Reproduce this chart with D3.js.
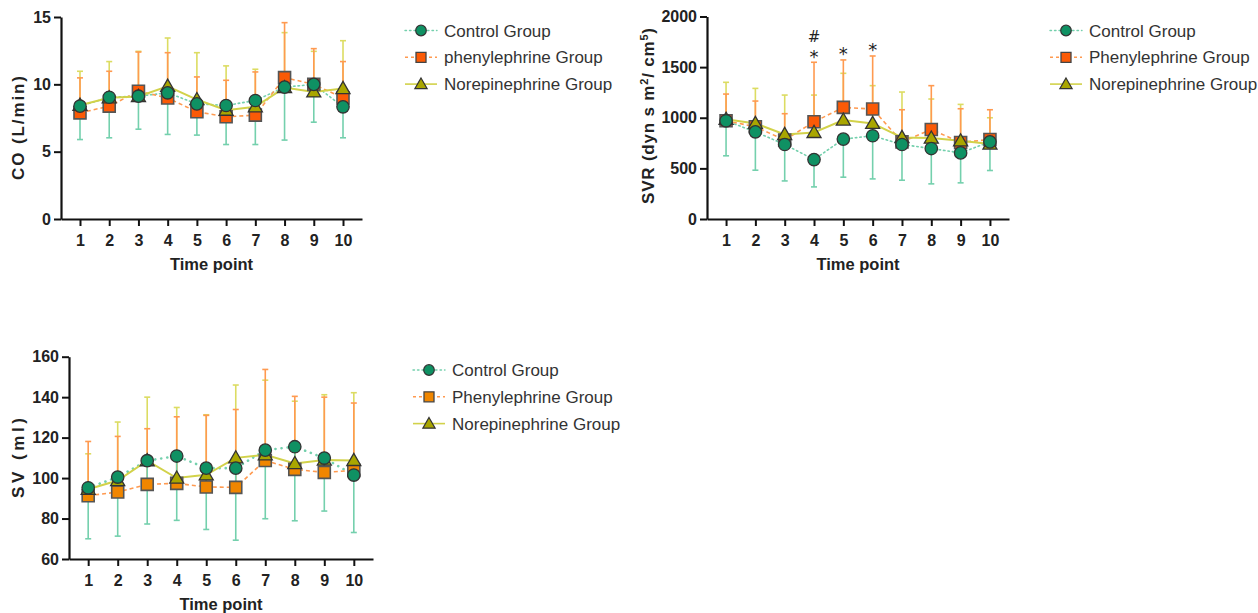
<!DOCTYPE html>
<html><head><meta charset="utf-8">
<script src="https://cdn.jsdelivr.net/npm/d3@7"></script>
<style>
html,body{margin:0;padding:0;background:#fff;}
svg{display:block;font-family:"Liberation Sans",Arial,sans-serif;}
</style></head>
<body><svg id="c" width="1258" height="613"></svg>
<script>
const timePoints = [1,2,3,4,5,6,7,8,9,10];

const coControl   = [8.38,9.04,9.12,9.37,8.55,8.43,8.8,9.79,10.0,8.33];
const coControlLo = [5.9,6.03,6.67,6.28,6.23,5.53,5.53,5.86,7.19,6.03];
const coPhenyl    = [7.88,8.38,9.49,8.99,7.96,7.59,7.71,10.5,10.0,8.99];
const coPhenylHi  = [10.48,10.97,12.4,12.35,10.55,10.3,10.92,14.58,12.65,11.69];
const coNorepi    = [8.45,9.0,9.1,9.86,8.87,8.08,8.33,9.76,9.44,9.69];
const coNorepiHi  = [10.97,11.69,12.45,13.44,12.35,11.37,11.12,13.84,12.45,13.24];
const coTicks = [0,5,10,15];

const svrControl   = [970,861,736,587,789,822,736,696,653,762];
const svrControlLo = [624,482,376,317,413,396,383,347,357,479];
const svrPhenyl    = [970,911,780,960,1102,1086,762,884,756,785];
const svrPhenylHi  = [1234,1165,1040,1548,1571,1610,1079,1317,1089,1079];
const svrNorepi    = [985,944,835,855,977,944,805,799,772,740];
const svrNorepiHi  = [1350,1290,1224,1224,1439,1317,1254,1185,1132,1000];
const svrTicks = [0,500,1000,1500,2000];
const svrSignif = [{t:4, marks:["#","*"]},{t:5, marks:["*"]},{t:6, marks:["*"]}];

const svControl   = [95.2,100.5,108.6,110.9,104.9,104.9,113.8,115.5,109.9,101.5];
const svControlLo = [70,71.3,77.3,79.1,74.6,69.3,79.9,78.9,83.7,73.1];
const svPhenyl    = [91.3,93.1,96.9,97.4,95.6,95.4,108.7,104.3,102.8,103.8];
const svPhenylHi  = [118.1,120.6,124.4,130.3,131,133.9,153.7,140.4,140,137.1];
const svNorepi    = [94.5,98.8,108.6,100,101.6,110,111.5,107.2,108.9,108.7];
const svNorepiHi  = [112,127.7,140,134.9,131.3,146,148.4,138,141.2,142.2];
const svTicks = [60,80,100,120,140,160];

const groupNames = {
  co:  ["Control Group","phenylephrine Group","Norepinephrine Group"],
  std: ["Control Group","Phenylephrine Group","Norepinephrine Group"]
};

const svg = d3.select("#c");
const C = {
  ctrlFill:"#0f9163", ctrlLine:"#74d0ad",
  phFill:"#fb5a06", phLine:"#ff9a50",
  neFill:"#a9a600", neLine:"#d2d24a", neErr:"#dcdc62"
};

function panel(o){
  const g = svg.append("g");
  const x = d3.scaleLinear().domain([0.35,10.65]).range([o.x0,o.x1]);
  const y = d3.scaleLinear().domain(o.yDomain).range([o.y0,o.y1]);
  const phFill = o.phFill || C.phFill;

  const ax = g.append("g").attr("transform",`translate(0,${o.y0})`)
    .call(d3.axisBottom(x).tickValues(timePoints).tickFormat(d3.format("d")).tickSize(7).tickPadding(5).tickSizeOuter(0));
  const ay = g.append("g").attr("transform",`translate(${o.x0},0)`)
    .call(d3.axisLeft(y).tickValues(o.ticks).tickFormat(d3.format("d")).tickSize(7).tickPadding(3).tickSizeOuter(0));
  [ax,ay].forEach(a=>{
    a.attr("font-size",16).attr("font-family","'Liberation Sans',Arial,sans-serif");
    a.select(".domain").attr("stroke","#111").attr("stroke-width",2.2);
    a.selectAll(".tick line").attr("stroke","#111").attr("stroke-width",2);
    a.selectAll(".tick text").attr("fill","#222").attr("font-weight","bold");
  });
  ax.selectAll(".tick text").attr("dy","0.95em");

  g.append("text").attr("x",(o.x0+o.x1)/2).attr("y",o.y0+51).attr("text-anchor","middle")
    .attr("font-size",16.5).attr("font-weight","bold").attr("fill","#222").text("Time point");
  const yt = g.append("text").attr("transform",`translate(${o.yTitleX},${o.yTitleY}) rotate(-90)`)
    .attr("text-anchor","middle").attr("font-size",17).attr("font-weight","bold").attr("fill","#222");
  o.yTitle(yt);

  const data = timePoints.map((t,i)=>({t,i}));
  function errBars(vals, ends, color){
    const eg = g.append("g").attr("stroke",color).attr("stroke-width",1.6);
    eg.selectAll("line.v").data(data).join("line")
      .attr("x1",d=>x(d.t)).attr("x2",d=>x(d.t))
      .attr("y1",d=>y(vals[d.i])).attr("y2",d=>y(ends[d.i]));
    eg.selectAll("line.c").data(data).join("line")
      .attr("x1",d=>x(d.t)-3).attr("x2",d=>x(d.t)+3)
      .attr("y1",d=>y(ends[d.i])).attr("y2",d=>y(ends[d.i]));
  }
  errBars(o.ne, o.neHi, C.neErr);
  errBars(o.ph, o.phHi, C.phLine);
  errBars(o.ctrl, o.ctrlLo, C.ctrlLine);

  const line = v => d3.line().x(d=>x(d.t)).y(d=>y(v[d.i]))(data);
  g.append("path").attr("d",line(o.ctrl)).attr("fill","none").attr("stroke",C.ctrlLine)
    .attr("stroke-width",o.dotW||1.6).attr("stroke-dasharray",o.dotDash||"1.5,3").attr("stroke-linecap","round");
  g.append("path").attr("d",line(o.ph)).attr("fill","none").attr("stroke",C.phLine)
    .attr("stroke-width",1.6).attr("stroke-dasharray","4,3");
  g.append("path").attr("d",line(o.ne)).attr("fill","none").attr("stroke",C.neLine)
    .attr("stroke-width",2);

  const sq = d3.symbol().type(d3.symbolSquare).size(144);
  const tri = d3.symbol().type(d3.symbolTriangle).size(85);
  g.selectAll("path.sq").data(data).join("path")
    .attr("transform",d=>`translate(${x(d.t)},${y(o.ph[d.i])})`).attr("d",sq)
    .attr("fill",phFill).attr("stroke","#555").attr("stroke-width",1.6);
  g.selectAll("path.tr").data(data).join("path")
    .attr("transform",d=>`translate(${x(d.t)},${y(o.ne[d.i])+1})`).attr("d",tri)
    .attr("fill",C.neFill).attr("stroke","#333").attr("stroke-width",1.3);
  g.selectAll("circle.ct").data(data).join("circle")
    .attr("cx",d=>x(d.t)).attr("cy",d=>y(o.ctrl[d.i])).attr("r",6.2)
    .attr("fill",C.ctrlFill).attr("stroke","#333").attr("stroke-width",1.3);

  const lg = g.append("g");
  o.names.forEach((nm,k)=>{
    const ly = o.legY + k*26.8;
    const lx = o.legX;
    const colors = [C.ctrlLine,C.phLine,C.neLine];
    const dashes = ["1.5,3","3,3",null];
    const ln = lg.append("line").attr("x1",lx-16).attr("x2",lx+16).attr("y1",ly).attr("y2",ly)
      .attr("stroke",colors[k]).attr("stroke-width",k===2?1.6:1.4);
    if(dashes[k]) ln.attr("stroke-dasharray",dashes[k]).attr("stroke-linecap",k===0?"round":"butt");
    if(k===0) lg.append("circle").attr("cx",lx).attr("cy",ly).attr("r",5.3)
      .attr("fill",C.ctrlFill).attr("stroke","#333").attr("stroke-width",1.2);
    if(k===1) lg.append("path").attr("transform",`translate(${lx},${ly})`)
      .attr("d",d3.symbol().type(d3.symbolSquare).size(100)).attr("fill",phFill).attr("stroke","#444").attr("stroke-width",1.3);
    if(k===2) lg.append("path").attr("transform",`translate(${lx},${ly+1})`)
      .attr("d",d3.symbol().type(d3.symbolTriangle).size(65)).attr("fill",C.neFill).attr("stroke","#333").attr("stroke-width",1.2);
    lg.append("text").attr("x",lx+23).attr("y",ly).attr("dy","0.36em")
      .attr("font-size",17).attr("fill","#333").text(nm);
  });
  return {g,x,y};
}

panel({x0:61,x1:362,y0:219,y1:17,yDomain:[0,15],ticks:coTicks,
  ctrl:coControl,ctrlLo:coControlLo,ph:coPhenyl,phHi:coPhenylHi,ne:coNorepi,neHi:coNorepiHi,
  yTitleX:24,yTitleY:128,
  yTitle:t=>t.attr("textLength",104).attr("lengthAdjust","spacing").text("CO (L/min)"),
  names:groupNames.co,legX:421,legY:30.5});

const svr = panel({x0:707,x1:1009,y0:219,y1:16.5,yDomain:[0,2000],ticks:svrTicks,
  ctrl:svrControl,ctrlLo:svrControlLo,ph:svrPhenyl,phHi:svrPhenylHi,ne:svrNorepi,neHi:svrNorepiHi,
  yTitleX:654,yTitleY:116,
  yTitle:t=>{
    t.attr("textLength",176).attr("lengthAdjust","spacing");
    t.append("tspan").text("SVR (dyn s m");
    t.append("tspan").attr("font-size",11).attr("dy",-6).text("2");
    t.append("tspan").attr("dy",6).text("/ cm");
    t.append("tspan").attr("font-size",11).attr("dy",-6).text("5");
    t.append("tspan").attr("dy",6).text(")");
  },
  names:groupNames.std,legX:1066,legY:30.5});
svrSignif.forEach(s=>{
  const i = timePoints.indexOf(s.t);
  const top = svr.y(svrPhenylHi[i]);
  const cx = svr.x(s.t);
  const n = s.marks.length;
  s.marks.forEach((m,k)=>{
    svr.g.append("text").attr("text-anchor","middle").attr("fill","#222")
      .attr("font-family","'DejaVu Sans',sans-serif")
      .attr("x",cx).attr("y",top + 0.5 - (n-1-k)*21)
      .attr("font-size",m==="*"?18:15).text(m);
  });
});

panel({x0:69,x1:373,y0:559,y1:356.7,yDomain:[60,160],ticks:svTicks,
  ctrl:svControl,ctrlLo:svControlLo,ph:svPhenyl,phHi:svPhenylHi,ne:svNorepi,neHi:svNorepiHi,
  phFill:"#f08600",dotW:2.6,dotDash:"0.1,6",
  yTitleX:24,yTitleY:458,
  yTitle:t=>t.attr("textLength",80).attr("lengthAdjust","spacing").text("SV (ml)"),
  names:groupNames.std,legX:429,legY:370});
</script></body></html>
